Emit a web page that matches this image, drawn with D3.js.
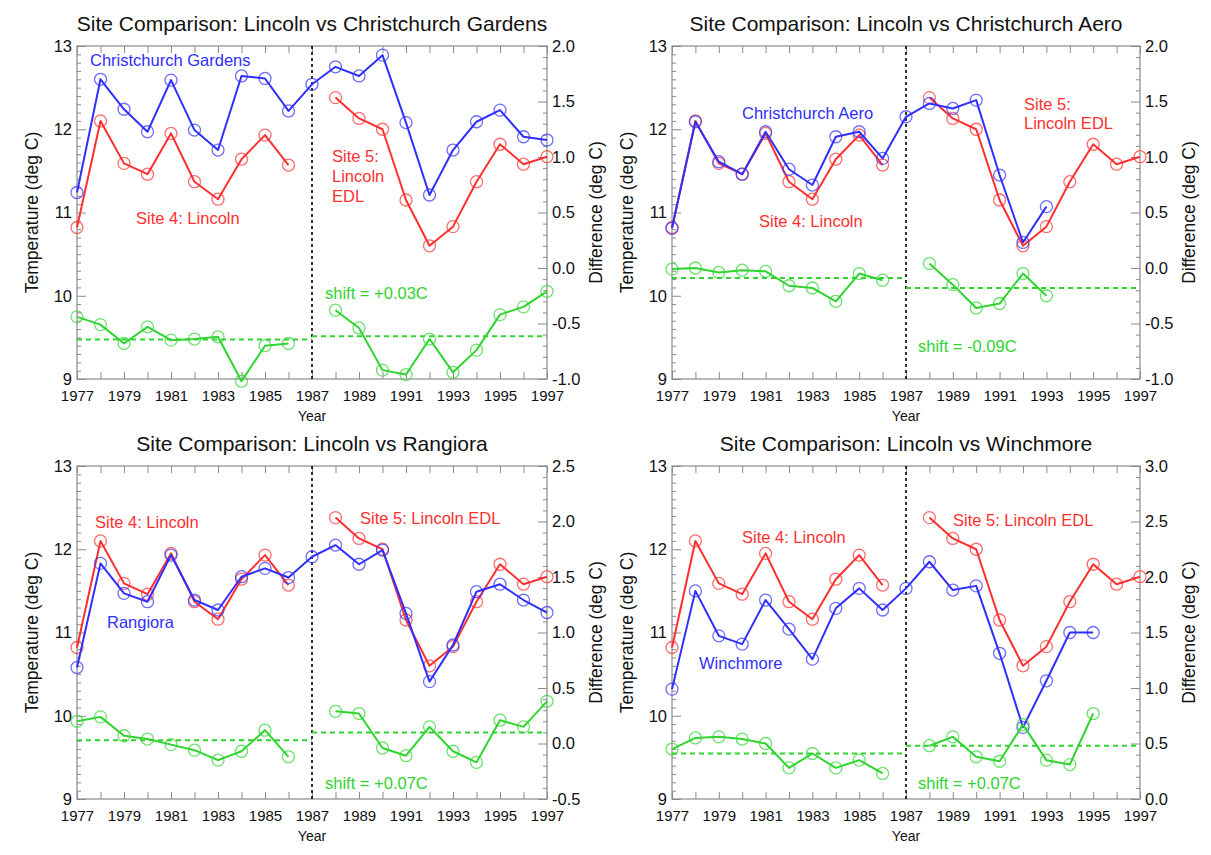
<!DOCTYPE html>
<html>
<head>
<meta charset="utf-8">
<script src="https://cdn.jsdelivr.net/npm/d3@7"></script>
<style>
  body { margin: 0; background: #fff; }
  svg { display: block; }
  text { font-family: "Liberation Sans", Arial, Helvetica, sans-serif; }
</style>
</head>
<body>
<svg id="chart" width="1211" height="855"></svg>
<script>
// ---- Annual mean temperatures (deg C) ----
const yearsAll   = [1977,1978,1979,1980,1981,1982,1983,1984,1985,1986,1987,1988,1989,1990,1991,1992,1993,1994,1995,1996,1997];
const yearsSite4 = [1977,1978,1979,1980,1981,1982,1983,1984,1985,1986];
const yearsSite5 = [1988,1989,1990,1991,1992,1993,1994,1995,1996,1997];
const tickYears  = [1977,1979,1981,1983,1985,1987,1989,1991,1993,1995,1997];

// Lincoln record: site 4 up to 1986, site 5 (Lincoln EDL) from 1988
const lincolnSite4 = [10.82,12.10,11.59,11.46,11.95,11.37,11.16,11.64,11.93,11.57];
const lincolnEDL   = [12.38,12.13,12.00,11.15,10.60,10.83,11.37,11.82,11.58,11.67];

// Comparison stations
const gardensYears = yearsAll;
const chchGardens  = [11.24,12.60,12.24,11.97,12.59,11.99,11.75,12.64,12.61,12.22,12.54,12.75,12.64,12.89,12.08,11.21,11.75,12.09,12.23,11.91,11.87];
const aeroYears    = [1977,1978,1979,1980,1981,1982,1983,1984,1985,1986,1987,1988,1989,1990,1991,1992,1993];
const chchAero     = [10.81,12.09,11.61,11.46,11.97,11.52,11.33,11.91,11.97,11.65,12.15,12.31,12.25,12.35,11.45,10.64,11.07];
const rangioraYears = yearsAll;
const rangiora     = [10.58,11.83,11.47,11.37,11.93,11.39,11.27,11.67,11.77,11.66,11.91,12.05,11.82,11.99,11.23,10.41,10.85,11.49,11.58,11.39,11.24];
const winchYears   = [1977,1978,1979,1980,1981,1982,1983,1984,1985,1986,1987,1988,1989,1990,1991,1992,1993,1994,1995];
const winchmore    = [10.32,11.50,10.96,10.86,11.39,11.04,10.68,11.29,11.53,11.27,11.53,11.85,11.51,11.56,10.75,9.86,10.42,11.00,11.00];

// ---- Differences Lincoln minus comparison station (deg C) ----
const diffGardensPre   = [-0.44,-0.51,-0.68,-0.53,-0.65,-0.64,-0.62,-1.02,-0.70,-0.68];
const diffGardensPost  = [-0.38,-0.54,-0.92,-0.96,-0.64,-0.94,-0.74,-0.42,-0.35,-0.21];
const diffAeroPre      = [-0.01,0.00,-0.04,-0.02,-0.03,-0.16,-0.18,-0.30,-0.05,-0.11];
const diffAeroPostYears = [1988,1989,1990,1991,1992,1993];
const diffAeroPost     = [0.04,-0.15,-0.36,-0.32,-0.05,-0.25];
const diffRangioraPre  = [0.20,0.24,0.07,0.04,-0.01,-0.06,-0.15,-0.07,0.12,-0.12];
const diffRangioraPost = [0.29,0.27,-0.04,-0.11,0.15,-0.07,-0.17,0.21,0.15,0.38];
const diffWinchPre     = [0.45,0.55,0.56,0.54,0.50,0.28,0.41,0.28,0.35,0.23];
const diffWinchPostYears = [1988,1989,1990,1991,1992,1993,1994,1995];
const diffWinchPost    = [0.48,0.56,0.38,0.34,0.67,0.35,0.31,0.77];

// Mean difference before / after the 1987 site change, and the resulting shift
const meanLevels   = [[-0.645,-0.615],[-0.09,-0.18],[0.03,0.10],[0.41,0.48]];
const shiftLabels  = ["shift = +0.03C","shift = -0.09C","shift = +0.07C","shift = +0.07C"];
const diffDomains  = [[-1,2],[-1,2],[-0.5,2.5],[0,3]];

const BLUE = "#2f2fff", RED = "#ff2f2f", GREEN = "#2fd42f", AXIS = "#8a8a8a", INK = "#111";

const zip = (ys, vs) => ys.map((y, i) => ({ year: y, v: vs[i] }));

const panels = [
  {
    title: "Site Comparison: Lincoln vs Christchurch Gardens",
    frame: { left: 77, right: 547, top: 46, bottom: 379 },
    comp: zip(gardensYears, chchGardens),
    pre: zip(yearsSite4, diffGardensPre), post: zip(yearsSite5, diffGardensPost),
    labels: [
      { t: "Christchurch Gardens", x: 90, y: 60, c: BLUE },
      { t: "Site 4: Lincoln", x: 136, y: 218, c: RED },
      { t: "Site 5:", x: 332, y: 156, c: RED },
      { t: "Lincoln", x: 332, y: 176, c: RED },
      { t: "EDL", x: 332, y: 196, c: RED },
      { t: shiftLabels[0], x: 325, y: 293, c: GREEN }
    ]
  },
  {
    title: "Site Comparison: Lincoln vs Christchurch Aero",
    frame: { left: 672, right: 1140, top: 46, bottom: 379 },
    comp: zip(aeroYears, chchAero),
    pre: zip(yearsSite4, diffAeroPre), post: zip(diffAeroPostYears, diffAeroPost),
    labels: [
      { t: "Christchurch Aero", x: 742, y: 113, c: BLUE },
      { t: "Site 4: Lincoln", x: 759, y: 221, c: RED },
      { t: "Site 5:", x: 1024, y: 104, c: RED },
      { t: "Lincoln EDL", x: 1024, y: 123, c: RED },
      { t: shiftLabels[1], x: 918, y: 346, c: GREEN }
    ]
  },
  {
    title: "Site Comparison: Lincoln vs Rangiora",
    frame: { left: 77, right: 547, top: 466, bottom: 799 },
    comp: zip(rangioraYears, rangiora),
    pre: zip(yearsSite4, diffRangioraPre), post: zip(yearsSite5, diffRangioraPost),
    labels: [
      { t: "Site 4: Lincoln", x: 95, y: 522, c: RED },
      { t: "Rangiora", x: 107, y: 622, c: BLUE },
      { t: "Site 5: Lincoln EDL", x: 360, y: 518, c: RED },
      { t: shiftLabels[2], x: 325, y: 783, c: GREEN }
    ]
  },
  {
    title: "Site Comparison: Lincoln vs Winchmore",
    frame: { left: 672, right: 1140, top: 466, bottom: 799 },
    comp: zip(winchYears, winchmore),
    pre: zip(yearsSite4, diffWinchPre), post: zip(diffWinchPostYears, diffWinchPost),
    labels: [
      { t: "Site 4: Lincoln", x: 742, y: 537, c: RED },
      { t: "Winchmore", x: 699, y: 663, c: BLUE },
      { t: "Site 5: Lincoln EDL", x: 953, y: 520, c: RED },
      { t: shiftLabels[3], x: 918, y: 783, c: GREEN }
    ]
  }
];

const svg = d3.select("#chart");
const fmt1 = v => (Math.abs(v) < 1e-9 ? 0 : v).toFixed(1);

function styleAxis(sel, fontSize) {
  sel.select(".domain").remove();
  sel.selectAll(".tick line").attr("stroke", AXIS).attr("stroke-width", 1);
  sel.selectAll(".tick text").attr("fill", INK).attr("font-size", fontSize)
     .attr("font-family", "'Liberation Sans', Arial, sans-serif");
}

function drawPanel(p, i) {
  const f = p.frame;
  const g = svg.append("g");
  const x  = d3.scaleLinear().domain([1977, 1997]).range([f.left, f.right]);
  const yT = d3.scaleLinear().domain([9, 13]).range([f.bottom, f.top]);
  const yD = d3.scaleLinear().domain(diffDomains[i]).range([f.bottom, f.top]);

  // axes: ticks point into the plot
  const xb = g.append("g").attr("transform", `translate(0,${f.bottom})`)
    .call(d3.axisBottom(x).tickValues(yearsAll).tickSize(-7).tickPadding(11)
      .tickFormat(d => tickYears.includes(d) ? String(d) : ""));
  styleAxis(xb, 15);
  const xt = g.append("g").attr("transform", `translate(0,${f.top})`)
    .call(d3.axisTop(x).tickValues(yearsAll).tickSize(-7).tickFormat(""));
  styleAxis(xt, 15);

  const tMajor = [9, 10, 11, 12, 13];
  const tMinor = d3.range(90, 131).map(v => v / 10).filter(v => !tMajor.includes(v));
  const yl = g.append("g").attr("transform", `translate(${f.left},0)`)
    .call(d3.axisLeft(yT).tickValues(tMajor).tickSize(-9).tickPadding(5).tickFormat(d3.format("d")));
  styleAxis(yl, 16.5);
  const ylm = g.append("g").attr("transform", `translate(${f.left},0)`)
    .call(d3.axisLeft(yT).tickValues(tMinor).tickSize(-4).tickFormat(""));
  styleAxis(ylm, 16.5);

  const [d0, d1] = diffDomains[i];
  const dMajor = d3.range(Math.round(d0 * 2), Math.round(d1 * 2) + 1).map(v => v / 2);
  const dMinor = d3.range(Math.round(d0 * 10), Math.round(d1 * 10) + 1).map(v => v / 10)
    .filter(v => Math.abs(v * 2 - Math.round(v * 2)) > 1e-6);
  const yr = g.append("g").attr("transform", `translate(${f.right},0)`)
    .call(d3.axisRight(yD).tickValues(dMajor).tickSize(-9).tickPadding(5).tickFormat(fmt1));
  styleAxis(yr, 16.5);
  const yrm = g.append("g").attr("transform", `translate(${f.right},0)`)
    .call(d3.axisRight(yD).tickValues(dMinor).tickSize(-4).tickFormat(""));
  styleAxis(yrm, 16.5);

  // frame
  g.append("rect").attr("x", f.left).attr("y", f.top)
    .attr("width", f.right - f.left).attr("height", f.bottom - f.top)
    .attr("fill", "none").attr("stroke", AXIS).attr("stroke-width", 1.2);

  // titles
  g.append("text").attr("x", (f.left + f.right) / 2).attr("y", f.top - 15)
    .attr("text-anchor", "middle").attr("font-size", 21).attr("fill", INK).text(p.title);
  g.append("text").attr("x", x(1987)).attr("y", f.bottom + 42)
    .attr("text-anchor", "middle").attr("font-size", 14).attr("fill", INK).text("Year");
  const midY = (f.top + f.bottom) / 2;
  g.append("text").attr("transform", `translate(${f.left - 45},${midY}) rotate(-90)`)
    .attr("text-anchor", "middle").attr("dy", "0.35em").attr("font-size", 17.5).attr("fill", INK)
    .text("Temperature (deg C)");
  g.append("text").attr("transform", `translate(${f.right + 49},${midY}) rotate(-90)`)
    .attr("text-anchor", "middle").attr("dy", "0.35em").attr("font-size", 17.5).attr("fill", INK)
    .text("Difference (deg C)");

  // 1987 site-change marker
  g.append("line").attr("x1", x(1987)).attr("x2", x(1987)).attr("y1", f.top).attr("y2", f.bottom)
    .attr("stroke", "#000").attr("stroke-width", 1.6).attr("stroke-dasharray", "3,3");

  // mean difference levels
  const [lvPre, lvPost] = meanLevels[i];
  g.append("line").attr("x1", x(1977)).attr("x2", x(1987)).attr("y1", yD(lvPre)).attr("y2", yD(lvPre))
    .attr("stroke", GREEN).attr("stroke-width", 2).attr("stroke-dasharray", "5,4");
  g.append("line").attr("x1", x(1987)).attr("x2", x(1997)).attr("y1", yD(lvPost)).attr("y2", yD(lvPost))
    .attr("stroke", GREEN).attr("stroke-width", 2).attr("stroke-dasharray", "5,4");

  const series = [
    { data: zip(yearsSite4, lincolnSite4), y: yT, c: RED },
    { data: zip(yearsSite5, lincolnEDL), y: yT, c: RED },
    { data: p.comp, y: yT, c: BLUE },
    { data: p.pre, y: yD, c: GREEN },
    { data: p.post, y: yD, c: GREEN }
  ];
  series.forEach(s => {
    const line = d3.line().x(d => x(d.year)).y(d => s.y(d.v));
    g.append("path").datum(s.data).attr("d", line).attr("fill", "none")
      .attr("stroke", s.c).attr("stroke-width", 2).attr("stroke-linejoin", "round");
    g.selectAll(null).data(s.data).enter().append("circle")
      .attr("cx", d => x(d.year)).attr("cy", d => s.y(d.v)).attr("r", 6)
      .attr("fill", "none").attr("stroke", s.c).attr("stroke-width", 1.3).attr("stroke-opacity", 0.7);
  });

  // annotations
  p.labels.forEach(l => {
    g.append("text").attr("x", l.x).attr("y", l.y).attr("dy", "0.35em")
      .attr("font-size", 16.5).attr("fill", l.c).text(l.t);
  });
}

panels.forEach(drawPanel);
</script>
</body>
</html>
